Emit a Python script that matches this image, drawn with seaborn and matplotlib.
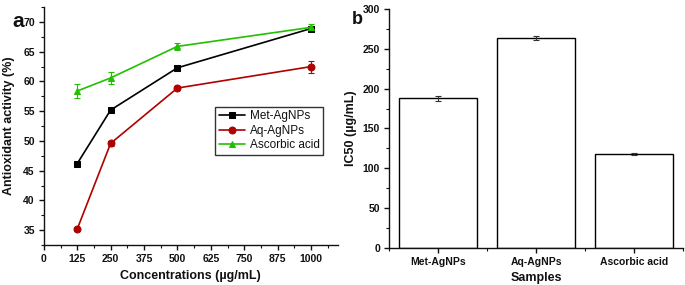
import matplotlib
matplotlib.use('Agg')
import matplotlib.pyplot as plt
import numpy as np
import pandas as pd
import seaborn as sns
from matplotlib.ticker import MultipleLocator, FixedLocator

# panel a data
conc = [125, 250, 500, 1000]
met_act = [46.2, 55.2, 62.3, 68.9]
met_err = [0.3, 0.3, 0.3, 0.3]
aq_act = [35.2, 49.6, 58.9, 62.5]
aq_err = [0.2, 0.4, 0.3, 1.0]
asc_act = [58.4, 60.6, 65.9, 69.1]
asc_err = [1.2, 1.0, 0.6, 0.5]

# panel b data
samples = ['Met-AgNPs', 'Aq-AgNPs', 'Ascorbic acid']
ic50 = [188, 264, 117.5]
ic50_err = [3, 2.5, 1]

sns.set_style('ticks')
plt.rcParams['font.family'] = ['Liberation Sans', 'DejaVu Sans']
plt.rcParams['font.weight'] = 'bold'
plt.rcParams['axes.labelweight'] = 'bold'
plt.rcParams['axes.linewidth'] = 1.0
plt.rcParams['text.color'] = '#111111'
plt.rcParams['axes.labelcolor'] = '#111111'
plt.rcParams['xtick.color'] = '#111111'
plt.rcParams['ytick.color'] = '#111111'
plt.rcParams['axes.edgecolor'] = '#111111'

fig = plt.figure(figsize=(6.85, 2.85), dpi=100)
ax1 = fig.add_axes([0.064, 0.140, 0.429, 0.835])
ax2 = fig.add_axes([0.568, 0.131, 0.429, 0.837])

series = [('Met-AgNPs', met_act, met_err, 'black', 's'),
          ('Aq-AgNPs', aq_act, aq_err, '#b00000', 'o'),
          ('Ascorbic acid', asc_act, asc_err, '#22c000', '^')]
for name, vals, err, col, mk in series:
    sns.lineplot(x=conc, y=vals, ax=ax1, color=col, marker=mk, markersize=5,
                 markeredgecolor=col, linewidth=1.2, label=name)
    ax1.errorbar(conc, vals, yerr=err, fmt='none', ecolor=col, elinewidth=0.8,
                 capsize=2.5, capthick=0.8)

ax1.set_xlim(0, 1100)
ax1.set_ylim(32.5, 72.5)
ax1.xaxis.set_major_locator(FixedLocator(np.arange(0, 1001, 125)))
ax1.xaxis.set_minor_locator(MultipleLocator(62.5))
ax1.yaxis.set_major_locator(FixedLocator(np.arange(35, 71, 5)))
ax1.yaxis.set_minor_locator(MultipleLocator(2.5))
ax1.set_xlabel('Concentrations (µg/mL)', fontsize=9, labelpad=4)
ax1.set_ylabel('Antioxidant activity (%)', fontsize=9, labelpad=6)
leg = ax1.legend(loc='lower right', bbox_to_anchor=(0.97, 0.355), fontsize=8.5,
                 frameon=True, fancybox=False, edgecolor='black',
                 handlelength=2.2, borderpad=0.3, labelspacing=0.2,
                 handletextpad=0.4)
leg.get_frame().set_linewidth(1.0)
for t in leg.get_texts():
    t.set_fontweight('normal')
sns.despine(ax=ax1)

df = pd.DataFrame({'Samples': samples, 'IC50': ic50})
sns.barplot(data=df, x='Samples', y='IC50', ax=ax2, color='white',
            edgecolor='black', linewidth=1.0, width=0.8)
ax2.errorbar(range(len(samples)), ic50, yerr=ic50_err, fmt='none',
             ecolor='#333333', elinewidth=0.8, capsize=2.5, capthick=0.8)
ax2.set_xlim(-0.5, 2.5)
ax2.set_ylim(0, 300)
ax2.yaxis.set_major_locator(MultipleLocator(50))
ax2.yaxis.set_minor_locator(MultipleLocator(25))
ax2.xaxis.set_minor_locator(FixedLocator([-0.5, 0.5, 1.5, 2.5]))
ax2.set_xlabel('Samples', fontsize=9, labelpad=4)
ax2.set_ylabel('IC50 (µg/mL)', fontsize=9, labelpad=4)
sns.despine(ax=ax2)

for ax in (ax1, ax2):
    ax.tick_params(which='major', direction='out', length=3.5, width=1.0,
                   labelsize=7.5, pad=3)
    ax.tick_params(which='minor', direction='out', length=2, width=0.8)
    for lbl in ax.get_xticklabels() + ax.get_yticklabels():
        lbl.set_fontweight('bold')

fig.text(0.018, 0.905, 'a', fontsize=15, fontweight='bold')
fig.text(0.513, 0.915, 'b', fontsize=13, fontweight='bold')

fig.savefig('out.png', dpi=100)
